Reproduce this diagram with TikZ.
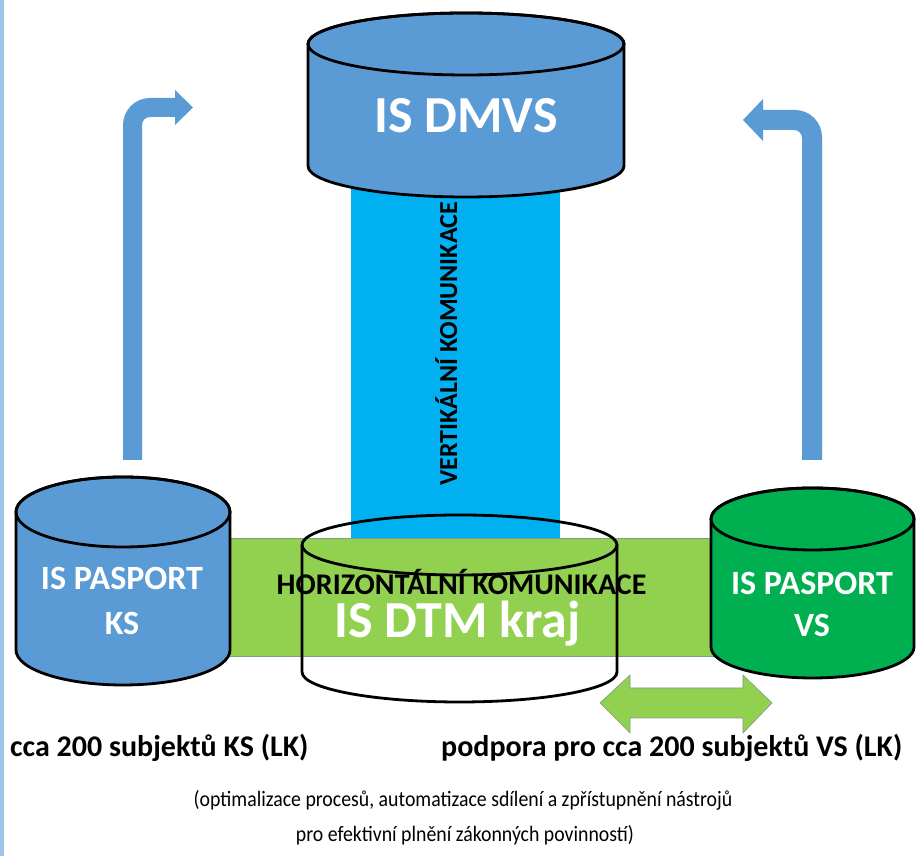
\documentclass[tikz,border=0pt]{standalone}
\usepackage{fontspec}
\usepackage{graphicx}
\setmainfont{Carlito}
\definecolor{cylblue}{HTML}{5B9BD5}
\definecolor{cyanbar}{HTML}{00B0F0}
\definecolor{greenbar}{HTML}{92D050}
\definecolor{vsgreen}{HTML}{00B050}
\definecolor{stripblue}{HTML}{9DC3E6}
\definecolor{thinedge}{HTML}{7F9A8A}
\begin{document}
\begin{tikzpicture}[x=1pt,y=1pt,
  cyl/.style={draw=black,line width=2.8pt,line join=round},
  whitelabel/.style={text=white,font=\bfseries\fontsize{34}{34}\selectfont,inner sep=0pt},
  blacklabel/.style={text=black,font=\bfseries\fontsize{30}{30}\selectfont,inner sep=0pt},
  note/.style={text=black,font=\fontsize{22}{22}\selectfont,inner sep=0pt},
  blockarrow/.style={fill=cylblue,draw=none}]
\useasboundingbox (0,0) rectangle (916,856);
\fill[white] (0,0) rectangle (916,856);
% left strip
\fill[stripblue] (0,0) rectangle (4,856);

% bent arrows
\fill[blockarrow] (123,396) -- (123,731) arc[start angle=180,end angle=90,radius=27]
  -- (175,758) -- (175,766) -- (193,748.5) -- (175,731) -- (175,739) -- (150,739)
  arc[start angle=90,end angle=180,radius=8] -- (142,396) -- cycle;
\fill[blockarrow] (822,396) -- (822,719) arc[start angle=0,end angle=90,radius=27]
  -- (763,746) -- (763,757) -- (743,736) -- (763,715) -- (763,726) -- (794,726)
  arc[start angle=90,end angle=0,radius=8] -- (802,396) -- cycle;

% vertical bar
\fill[cyanbar] (351,318) rectangle (560,700);

% IS DMVS cylinder
\filldraw[cyl,fill=cylblue] (308,812) -- (308,690) arc[start angle=180,end angle=360,x radius=158,y radius=31]
  -- (624,812) arc[start angle=0,end angle=180,x radius=158,y radius=31] -- cycle;
\draw[cyl] (466,812) ellipse[x radius=158,y radius=31];
\node[whitelabel,font=\bfseries\fontsize{52}{52}\selectfont,anchor=base] (dmvs) at (466,723) {IS DMVS};

\node[blacklabel,font=\bfseries\fontsize{26}{26}\selectfont,rotate=90,anchor=base] (vert) at (457,512) {VERTIKÁLNÍ KOMUNIKACE};

% horizontal bar
\filldraw[fill=greenbar,draw=thinedge,line width=0.6pt] (200,200) rectangle (740,318);

% IS PASPORT KS cylinder
\filldraw[cyl,fill=cylblue] (16,344) -- (16,206) arc[start angle=180,end angle=360,x radius=107,y radius=35]
  -- (230,344) arc[start angle=0,end angle=180,x radius=107,y radius=35] -- cycle;
\draw[cyl] (123,344) ellipse[x radius=107,y radius=35];
\node[whitelabel,anchor=base] (ks1) at (122,266) {IS PASPORT};
\node[whitelabel,anchor=base] (ks2) at (122,221) {KS};

% IS PASPORT VS cylinder
\filldraw[cyl,fill=vsgreen] (711,337) -- (711,209) arc[start angle=180,end angle=360,x radius=101.5,y radius=31]
  -- (914,337) arc[start angle=0,end angle=180,x radius=101.5,y radius=31] -- cycle;
\draw[cyl] (812.5,337) ellipse[x radius=101.5,y radius=31];
\node[whitelabel,anchor=base] (vs1) at (812,261) {IS PASPORT};
\node[whitelabel,anchor=base] (vs2) at (812,219) {VS};

% IS DTM kraj cylinder (outline only)
\draw[cyl] (302,311) -- (302,184) arc[start angle=180,end angle=360,x radius=157.5,y radius=30] -- (617,311);
\draw[cyl] (459.5,311) ellipse[x radius=157.5,y radius=30];
\node[blacklabel,anchor=base,text depth=0pt] (horiz) at (461.5,261) {HORIZONTÁLNÍ KOMUNIKACE};
\node[whitelabel,font=\bfseries\fontsize{52}{52}\selectfont,anchor=base,text height=34pt] (dtm) at (457.5,218) {IS DTM kraj};

% double arrow
\filldraw[fill=greenbar,draw=thinedge,line width=0.6pt] (600,153) -- (630,181) -- (630,168) -- (743,168)
  -- (743,181) -- (772,153) -- (743,123) -- (743,138) -- (630,138) -- (630,123) -- cycle;

% bottom texts
\node[blacklabel,anchor=base west] (cntks) at (10,99) {cca 200 subjektů KS (LK)};
\node[blacklabel,anchor=base west] (cntvs) at (441,99) {podpora pro cca 200 subjektů VS (LK)};
\node[note,anchor=base] (note1) at (463,49) {\scalebox{0.9}[1]{(optimalizace procesů, automatizace sdílení a zpřístupnění nástrojů}};
\node[note,anchor=base] (note2) at (465,14) {\scalebox{0.9}[1]{pro efektivní plnění zákonných povinností)}};
\end{tikzpicture}
\end{document}
